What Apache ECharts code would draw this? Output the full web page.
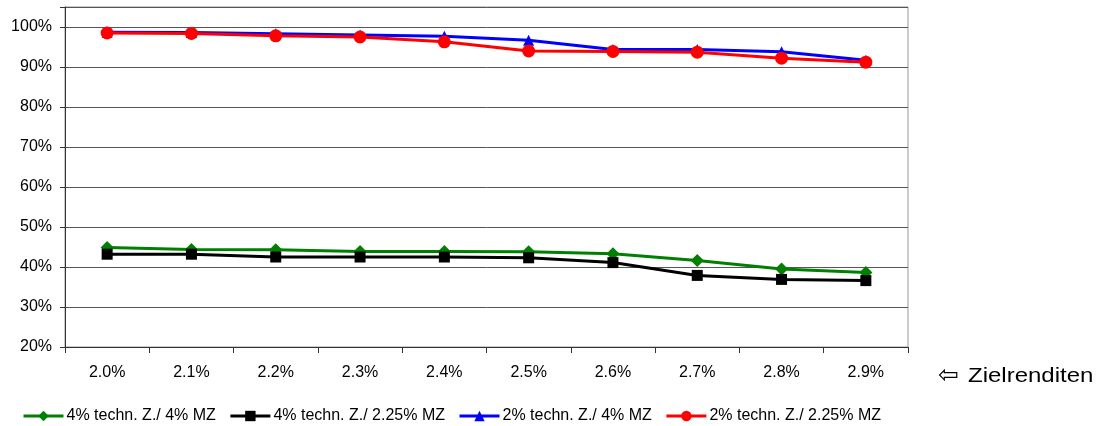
<!DOCTYPE html>
<html>
<head>
<meta charset="utf-8">
<script src="https://cdn.jsdelivr.net/npm/echarts@6/dist/echarts.min.js"></script>
<style>html,body{margin:0;padding:0;background:#fff;}#c{width:1105px;height:426px;}</style>
</head>
<body>
<div id="c"></div>
<script>
var categories = ['2.0%','2.1%','2.2%','2.3%','2.4%','2.5%','2.6%','2.7%','2.8%','2.9%'];
var seriesNames = ['4% techn. Z./ 4% MZ','4% techn. Z./ 2.25% MZ','2% techn. Z./ 4% MZ','2% techn. Z./ 2.25% MZ'];
var green4_4 = [0.449,0.444,0.443,0.439,0.439,0.438,0.433,0.416,0.395,0.386];
var black4_225 = [0.432,0.432,0.425,0.425,0.425,0.423,0.411,0.379,0.369,0.366];
var blue2_4 = [0.987,0.986,0.983,0.980,0.977,0.967,0.944,0.944,0.938,0.917];
var red2_225 = [0.985,0.984,0.978,0.975,0.963,0.940,0.939,0.937,0.922,0.912];
var yTicks = [0.2,0.3,0.4,0.5,0.6,0.7,0.8,0.9,1.0];

var chart = echarts.init(document.getElementById('c'), null, {renderer:'canvas'});
var font = 'Liberation Sans, Arial, sans-serif';
function mk(name, data, color, symbol, size) {
  return {
    name: name, type: 'line', data: data,
    symbol: symbol, symbolSize: size,
    lineStyle: {color: color, width: 3},
    itemStyle: {color: color},
    emphasis: {disabled: true},
    animation: false
  };
}
chart.setOption({
  backgroundColor: '#fff',
  animation: false,
  grid: {left: 65, right: 197, top: 7, bottom: 79, show: true, borderColor: '#999', borderWidth: 1, containLabel: false},
  legend: {
    data: seriesNames, left: 17, top: 403, itemWidth: 40, itemHeight: 13, itemGap: 13,
    lineStyle: {width: 3},
    textStyle: {fontFamily: font, fontSize: 16, color: '#000', padding: [0,0,0,-2]}
  },
  xAxis: {
    type: 'category', data: categories, boundaryGap: true,
    axisLine: {lineStyle: {color: '#333', width: 1}},
    axisTick: {show: true, length: 6, lineStyle: {color: '#333'}},
    axisLabel: {fontFamily: font, fontSize: 16, color: '#000', margin: 18},
    splitLine: {show: false}
  },
  yAxis: {
    type: 'value', min: 0.2, max: 1.05, interval: 0.1,
    axisLine: {show: true, lineStyle: {color: '#333', width: 1}},
    axisTick: {show: true, length: 5, lineStyle: {color: '#333'}},
    axisLabel: {fontFamily: font, fontSize: 16, color: '#000', margin: 13,
      formatter: function (v) {
        if (yTicks.some(function (t) { return Math.abs(t - v) < 1e-6; })) return Math.round(v * 100) + '%';
        return '';
      }
    },
    splitLine: {show: true, lineStyle: {color: '#555', width: 1}}
  },
  graphic: [
    {type: 'text', x: 938, y: 364, style: {text: '\u21E6', font: '25px DejaVu Sans, sans-serif', fill: '#000'}},
    {type: 'text', x: 968, y: 366, scaleX: 1.2, style: {text: 'Zielrenditen', font: '20px ' + font, fill: '#000'}}
  ],
  series: [
    mk(seriesNames[0], green4_4, '#008000', 'diamond', 13),
    mk(seriesNames[1], black4_225, '#000000', 'rect', 11),
    mk(seriesNames[2], blue2_4, '#0000ff', 'triangle', 11),
    mk(seriesNames[3], red2_225, '#ff0000', 'circle', 13)
  ]
});
</script>
</body>
</html>
